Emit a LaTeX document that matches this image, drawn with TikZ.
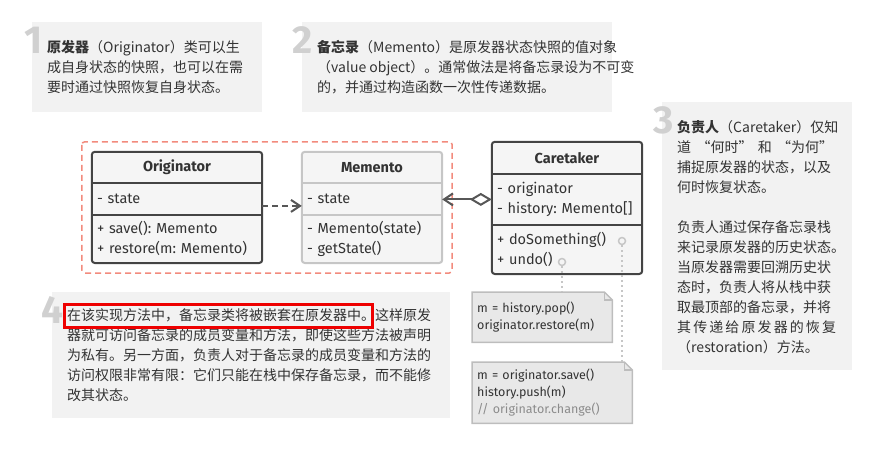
\documentclass[tikz,border=0pt]{standalone}
\usepackage{fontspec}
\setmainfont{Fira Sans}
\newfontfamily\cjk{Noto Sans CJK SC}
\usetikzlibrary{arrows.meta,positioning,calc,backgrounds}
\definecolor{noteGray}{HTML}{F2F2F2}
\definecolor{numGray}{HTML}{D0D0D0}
\definecolor{inkDark}{HTML}{333333}
\definecolor{lineDark}{HTML}{444444}
\definecolor{lineLight}{HTML}{C6C6C6}
\definecolor{boxFill}{HTML}{F5F5F5}
\definecolor{codeFill}{HTML}{E8E8E8}
\definecolor{codeLine}{HTML}{BDBDBD}
\definecolor{salmon}{HTML}{F28B7D}
\definecolor{hiRed}{HTML}{EE0000}
\frenchspacing

\begin{document}
\begin{tikzpicture}[x=1pt, y=-1pt,
    every node/.style={text=inkDark, inner sep=0pt},
    note/.style={fill=noteGray, anchor=north west},
    num/.style={anchor=base west, text=numGray,
                font=\fontsize{39}{39}\selectfont\bfseries},
    notetext/.style={anchor=north west, align=left,
                font=\cjk\fontsize{14}{20}\selectfont},
    head/.style={minimum height=31pt, font=\fontsize{14.5}{20}\selectfont\bfseries},
    part/.style={inner xsep=5pt, align=left, font=\fontsize{14.5}{20}\selectfont},
    classbox/.style={line width=2pt, rounded corners=3pt, fill=boxFill},
    codenote/.style={inner xsep=5pt, align=left, anchor=north west,
                font=\fontsize{12.5}{17}\selectfont},
    codebox/.style={fill=codeFill, draw=codeLine, line width=1.5pt},
    hookdot/.style={circle, draw=lineLight, fill=boxFill, line width=1.5pt,
                minimum size=7pt},
    hookline/.style={lineLight, line width=1.5pt, dash pattern=on 2pt off 3pt},
    link/.style={draw=lineDark!90, line width=2pt},
  ]
  \useasboundingbox (0,0) rectangle (873,464);

  % Note 1 - originator
  \node[note, minimum width=230pt, minimum height=90pt] (note1) at (32,22) {};
  \node[num] (num1) at (24,53) {1};
  \node[notetext] (text1) at (47,40)
    {\textbf{原发器}（Originator）类可以生\\成自身状态的快照，也可以在需\\要时通过快照恢复自身状态。};

  % Note 2 - memento
  \node[note, minimum width=310pt, minimum height=90pt] (note2) at (302,22) {};
  \node[num] (num2) at (292,53) {2};
  \node[notetext] (text2) at (317,40)
    {\textbf{备忘录}（Memento）是原发器状态快照的值对象\\（value object）。通常做法是将备忘录设为不可变\\的，并通过构造函数一次性传递数据。};

  % Note 3 - caretaker
  \node[note, minimum width=190pt, minimum height=268pt] (note3) at (662,102) {};
  \node[num] (num3) at (653,133) {3};
  \node[notetext] (text3) at (677,120)
    {\textbf{负责人}（Caretaker）仅知\\\makebox[156pt][s]{道 “何时” 和 “为何”}\\捕捉原发器的状态，以及\\何时恢复状态。\\[20pt]
     负责人通过保存备忘录栈\\来记录原发器的历史状态。\\当原发器需要回溯历史状\\态时，负责人将从栈中获\\取最顶部的备忘录，并将\\\makebox[156pt][s]{其 传 递 给 原 发 器 的 恢 复}\\（restoration）方法。};

  % Note 4 - nesting
  \node[note, minimum width=398pt, minimum height=126pt] (note4) at (52,292) {};
  \node[num] (num4) at (41,323) {4};
  \node[notetext] (text4) at (67,308)
    {在该实现方法中，备忘录类将被嵌套在原发器中。这样原发\\器就可访问备忘录的成员变量和方法，即使这些方法被声明\\为私有。另一方面，负责人对于备忘录的成员变量和方法的\\访问权限非常有限：它们只能在栈中保存备忘录，而不能修\\改其状态。};
  \draw[hiRed, line width=3pt] (64,304) rectangle (372,327);

  % Originator class
  \node[head, minimum width=170pt] (origHead) at (177,167.5) {Originator};
  \node[part, text width=160pt, minimum height=31pt, below=0pt of origHead]
    (origAttr) {- state};
  \node[part, text width=160pt, minimum height=48pt, below=0pt of origAttr]
    (origOps) {+ save(): Memento\\+ restore(m: Memento)};

  % Memento class
  \node[head, minimum width=140pt] (memHead) at (372,167.5) {Memento};
  \node[part, text width=130pt, minimum height=31pt, below=0pt of memHead]
    (memAttr) {- state};
  \node[part, text width=130pt, minimum height=48pt, below=0pt of memAttr]
    (memOps) {- Memento(state)\\- getState()};

  % Caretaker class
  \node[head, minimum width=150pt, minimum height=32pt] (careHead) at (567,158) {Caretaker};
  \node[part, text width=140pt, minimum height=50pt, below=0pt of careHead]
    (careAttr) {- originator\\- history: Memento[]};
  \node[part, text width=140pt, minimum height=49pt, below=0pt of careAttr]
    (careOps) {+ doSomething()\\+ undo()};

  % Code notes
  \node[codenote, text width=130pt, minimum height=50pt] (popNote) at (472,292)
    {m = history.pop()\\originator.restore(m)};
  \node[codenote, text width=150pt, minimum height=61pt] (saveNote) at (472,362)
    {m = originator.save()\\history.push(m)\\\textcolor{black!45}{// originator.change()}};

  \begin{scope}[on background layer]
    % class outlines
    \draw[classbox, draw=lineDark] (origHead.north west) rectangle (origOps.south east);
    \draw[lineDark, line width=2pt] (origAttr.north west) -- (origAttr.north east);
    \draw[lineDark, line width=2pt] (origOps.north west) -- (origOps.north east);
    \draw[classbox, draw=lineLight] (memHead.north west) rectangle (memOps.south east);
    \draw[lineLight, line width=2pt] (memAttr.north west) -- (memAttr.north east);
    \draw[lineLight, line width=2pt] (memOps.north west) -- (memOps.north east);
    \draw[classbox, draw=lineDark] (careHead.north west) rectangle (careOps.south east);
    \draw[lineDark, line width=2pt] (careAttr.north west) -- (careAttr.north east);
    \draw[lineDark, line width=2pt] (careOps.north west) -- (careOps.north east);
    % folded notes
    \filldraw[codebox] (popNote.north west) -- ([xshift=-8pt]popNote.north east)
      -- ([yshift=-8pt]popNote.north east) -- (popNote.south east)
      -- (popNote.south west) -- cycle;
    \draw[codebox, fill=none] ([xshift=-8pt]popNote.north east)
      |- ([yshift=-8pt]popNote.north east);
    \filldraw[codebox] (saveNote.north west) -- ([xshift=-8pt]saveNote.north east)
      -- ([yshift=-8pt]saveNote.north east) -- (saveNote.south east)
      -- (saveNote.south west) -- cycle;
    \draw[codebox, fill=none] ([xshift=-8pt]saveNote.north east)
      |- ([yshift=-8pt]saveNote.north east);
  \end{scope}

  % Nested boundary
  \draw[salmon, line width=1.5pt, dash pattern=on 6pt off 4pt, rounded corners=3pt]
    ([shift={(-10pt,10pt)}]origHead.north west)
    rectangle ([shift={(10pt,-10pt)}]memOps.south east);

  % Relations
  \draw[link, dash pattern=on 6pt off 4pt, -{Straight Barb[length=9pt, width=12pt]}]
    ([yshift=-7pt]origAttr.east) -- ([yshift=-7pt]memAttr.west);
  \draw[link, {Diamond[open, length=22pt, width=13pt]}-{Straight Barb[length=9pt, width=12pt]}]
    (careAttr.west) -- (careAttr.west -| memAttr.east);

  % Method hooks
  \node[hookdot] (doDot) at (622,241) {};
  \node[hookdot] (undoDot) at (562,262) {};
  \draw[hookline] (undoDot.south) -- (undoDot.south |- popNote.north);
  \draw[hookline] (doDot.south) -- (doDot.south |- saveNote.north);
\end{tikzpicture}
\end{document}
